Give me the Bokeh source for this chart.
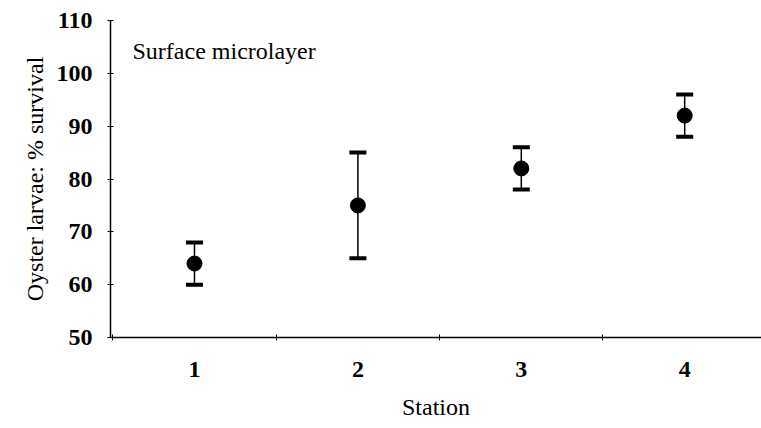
from bokeh.plotting import figure
from bokeh.models import FixedTicker, Whisker, TeeHead, ColumnDataSource, Label, Range1d
from bokeh.embed import file_html
from bokeh.resources import INLINE

stations = [1, 2, 3, 4]
survival = [64, 75, 82, 92]
upper = [68, 85, 86, 96]
lower = [60, 65, 78, 88]
y_ticks = [50, 60, 70, 80, 90, 100, 110]
station_labels = ["1", "2", "3", "4"]

FONT = "Liberation Serif"

p = figure(width=761, height=428, output_backend="svg", toolbar_location=None,
           x_range=Range1d(0.486, 4.47), y_range=Range1d(50, 110),
           min_border_left=110, min_border_right=0, min_border_top=20, min_border_bottom=91)
p.outline_line_color = None
p.xgrid.visible = False
p.ygrid.visible = False
p.background_fill_color = "white"
p.border_fill_color = "white"

src = ColumnDataSource(dict(x=stations, y=survival, up=upper, lo=lower))
w = Whisker(source=src, base="x", upper="up", lower="lo", dimension="height",
            line_color="black", line_width=1.5,
            upper_head=TeeHead(size=17, line_width=4, line_color="black"),
            lower_head=TeeHead(size=17, line_width=4, line_color="black"))
p.add_layout(w)
p.scatter("x", "y", source=src, size=15, color="black")

# x axis
p.xaxis.ticker = FixedTicker(ticks=stations, minor_ticks=[0.5, 1.5, 2.5, 3.5, 4.5])
p.xaxis.major_label_overrides = {s: l for s, l in zip(stations, station_labels)}
p.xaxis.major_tick_line_color = None
p.xaxis.minor_tick_in = 3
p.xaxis.minor_tick_out = 3
p.xaxis.minor_tick_line_color = "black"
p.xaxis.axis_label = "Station"
p.xaxis.major_label_standoff = 18
p.xaxis.axis_label_standoff = 14

# y axis
p.yaxis.ticker = FixedTicker(ticks=y_ticks, minor_ticks=[])
p.yaxis.major_tick_in = 3
p.yaxis.major_tick_out = 3
p.yaxis.axis_label = "Oyster larvae: % survival"
p.yaxis.major_label_standoff = 15
p.yaxis.axis_label_standoff = 6

for ax in (p.xaxis[0], p.yaxis[0]):
    ax.axis_line_color = "black"
    ax.axis_line_width = 1.5
    ax.major_label_text_font = FONT
    ax.major_label_text_font_size = "24px"
    ax.major_label_text_font_style = "bold"
    ax.major_label_text_color = "black"
    ax.axis_label_text_font = FONT
    ax.axis_label_text_font_size = "24px"
    ax.axis_label_text_font_style = "normal"
    ax.axis_label_text_color = "black"

p.add_layout(Label(x=22, y=287, x_units="screen", y_units="screen",
                   text="Surface microlayer", text_font=FONT, text_font_size="24px",
                   text_color="black", text_baseline="middle"))

open("out.html", "w").write(file_html(p, INLINE))
